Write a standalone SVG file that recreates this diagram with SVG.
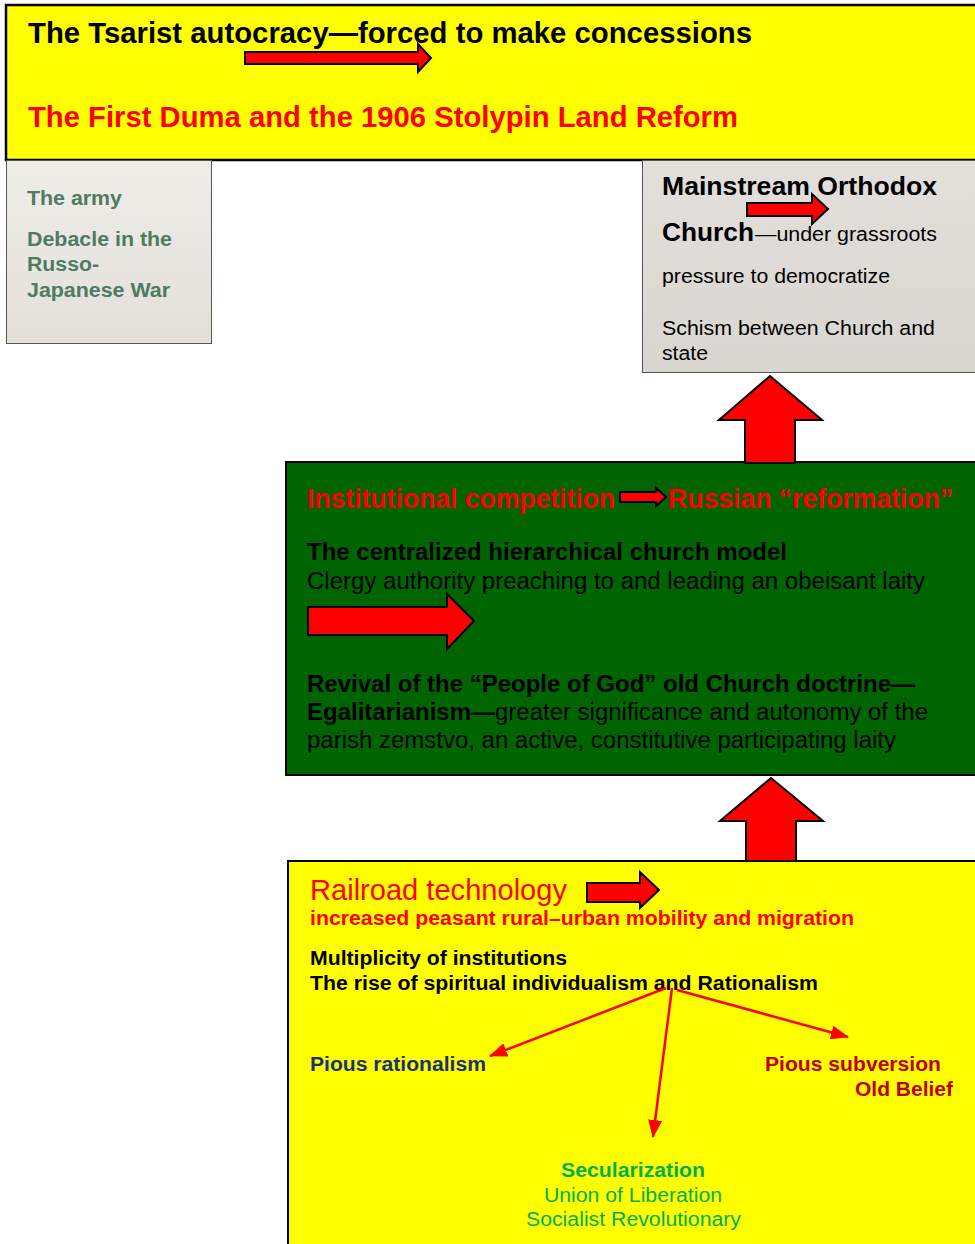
<svg xmlns="http://www.w3.org/2000/svg" width="975" height="1244" viewBox="0 0 975 1244">
  <defs>
    <linearGradient id="greyFill" x1="0" y1="0" x2="0" y2="1">
      <stop offset="0" stop-color="#EFEDE8"/>
      <stop offset="1" stop-color="#E3E0DA"/>
    </linearGradient>
    <linearGradient id="churchFill" x1="0" y1="0" x2="0" y2="1">
      <stop offset="0" stop-color="#E3E0DB"/>
      <stop offset="1" stop-color="#D9D6D1"/>
    </linearGradient>
    <marker id="head" viewBox="0 0 18 14" refX="17" refY="7" markerWidth="18" markerHeight="14" markerUnits="userSpaceOnUse" orient="auto">
      <path d="M0,0 L18,7 L0,14 Z" fill="#FF0000"/>
    </marker>
    <style>
      text { font-family: "Liberation Sans", Arial, sans-serif; }
      .b { font-weight: bold; }
      .block { fill: #FF0000; stroke: #000000; stroke-width: 2; stroke-linejoin: miter; }
      .link { fill: none; stroke: #FF0000; stroke-width: 2.5; }
      .army { fill: #4E7B62; font-weight: bold; font-size: 20px; }
      .blk { fill: #000000; }
      .red { fill: #FF0000; }
    </style>
  </defs>

  <!-- Tsarist autocracy banner -->
  <g id="node-autocracy">
    <rect x="6" y="5" width="972" height="155" fill="#FFFF00" stroke="#000000" stroke-width="2.5"/>
    <text x="28" y="43" class="b blk" font-size="29" textLength="724" lengthAdjust="spacingAndGlyphs">The Tsarist autocracy—forced to make concessions</text>
    <path class="block" d="M245,52 L418,52 L418,44 L431,58 L418,72 L418,64 L245,64 Z"/>
    <text x="28" y="127" class="b red" font-size="30" textLength="710" lengthAdjust="spacingAndGlyphs">The First Duma and the 1906 Stolypin Land Reform</text>
  </g>

  <!-- Army box -->
  <g id="node-army">
    <rect x="6.5" y="160.5" width="205" height="183" fill="url(#greyFill)" stroke="#555555" stroke-width="1"/>
    <text x="27" y="205" class="army" textLength="95" lengthAdjust="spacingAndGlyphs">The army</text>
    <text x="27" y="246" class="army" textLength="145" lengthAdjust="spacingAndGlyphs">Debacle in the</text>
    <text x="27" y="271" class="army" textLength="72" lengthAdjust="spacingAndGlyphs">Russo-</text>
    <text x="27" y="297" class="army" textLength="143" lengthAdjust="spacingAndGlyphs">Japanese War</text>
  </g>

  <!-- Mainstream Orthodox Church box -->
  <g id="node-church">
    <rect x="642.5" y="160.5" width="335" height="212" fill="url(#churchFill)" stroke="#555555" stroke-width="1"/>
    <text x="662" y="195" class="b blk" font-size="26" textLength="275" lengthAdjust="spacingAndGlyphs">Mainstream Orthodox</text>
    <path class="block" d="M747,203 L812,203 L812,194 L828,209 L812,224 L812,216 L747,216 Z"/>
    <text x="662" y="241" class="b blk" font-size="26" textLength="92" lengthAdjust="spacingAndGlyphs">Church</text>
    <text x="755" y="241" class="blk" font-size="20" textLength="182" lengthAdjust="spacingAndGlyphs">—under grassroots</text>
    <text x="662" y="283" class="blk" font-size="20" textLength="228" lengthAdjust="spacingAndGlyphs">pressure to democratize</text>
    <text x="662" y="335" class="blk" font-size="20" textLength="273" lengthAdjust="spacingAndGlyphs">Schism between Church and</text>
    <text x="662" y="360" class="blk" font-size="20" textLength="46" lengthAdjust="spacingAndGlyphs">state</text>
  </g>

  <!-- Institutional competition box -->
  <g id="node-competition">
    <rect x="286" y="462" width="692" height="313" fill="#006400" stroke="#000000" stroke-width="2"/>
    <text x="307" y="508" class="b red" font-size="28" textLength="308" lengthAdjust="spacingAndGlyphs">Institutional competition</text>
    <path class="block" d="M620,492 L656,492 L656,488 L666,497 L656,506 L656,502 L620,502 Z"/>
    <text x="668" y="508" class="b red" font-size="28" textLength="285" lengthAdjust="spacingAndGlyphs">Russian “reformation”</text>
    <text x="307" y="560" class="b blk" font-size="23" textLength="480" lengthAdjust="spacingAndGlyphs">The centralized hierarchical church model</text>
    <text x="307" y="589" class="blk" font-size="23" textLength="618" lengthAdjust="spacingAndGlyphs">Clergy authority preaching to and leading an obeisant laity</text>
    <path class="block" d="M308,607 L447,607 L447,594 L474,621 L447,649 L447,635 L308,635 Z"/>
    <text x="307" y="692" class="b blk" font-size="23" textLength="608" lengthAdjust="spacingAndGlyphs">Revival of the “People of God” old Church doctrine—</text>
    <text x="307" y="720" class="b blk" font-size="23" textLength="188" lengthAdjust="spacingAndGlyphs">Egalitarianism—</text>
    <text x="495" y="720" class="blk" font-size="23" textLength="433" lengthAdjust="spacingAndGlyphs">greater significance and autonomy of the</text>
    <text x="307" y="748" class="blk" font-size="23" textLength="589" lengthAdjust="spacingAndGlyphs">parish zemstvo, an active, constitutive participating laity</text>
  </g>

  <!-- Railroad technology box -->
  <g id="node-railroad">
    <rect x="288" y="861" width="690" height="390" fill="#FFFF00" stroke="#000000" stroke-width="2"/>
    <text x="310" y="900" class="red" font-size="30" textLength="257" lengthAdjust="spacingAndGlyphs">Railroad technology</text>
    <path class="block" d="M587,883 L640,883 L640,872 L659,890 L640,908 L640,902 L587,902 Z"/>
    <text x="310" y="925" class="b red" font-size="20" textLength="544" lengthAdjust="spacingAndGlyphs">increased peasant rural–urban mobility and migration</text>
    <text x="310" y="965" class="b blk" font-size="20" textLength="257" lengthAdjust="spacingAndGlyphs">Multiplicity of institutions</text>
    <text x="310" y="990" class="b blk" font-size="20" textLength="508" lengthAdjust="spacingAndGlyphs">The rise of spiritual individualism and Rationalism</text>
  </g>

  <g id="node-pious-rationalism">
    <text x="310" y="1071" class="b" fill="#1A3275" font-size="20" textLength="176" lengthAdjust="spacingAndGlyphs">Pious rationalism</text>
  </g>

  <g id="node-pious-subversion">
    <text x="765" y="1071" class="b" fill="#C00000" font-size="20" textLength="176" lengthAdjust="spacingAndGlyphs">Pious subversion</text>
    <text x="855" y="1096" class="b" fill="#C00000" font-size="20" textLength="98" lengthAdjust="spacingAndGlyphs">Old Belief</text>
  </g>

  <g id="node-secularization">
    <text x="561" y="1177" class="b" fill="#00B050" font-size="20" textLength="144" lengthAdjust="spacingAndGlyphs">Secularization</text>
    <text x="544" y="1202" fill="#00B050" font-size="20" textLength="178" lengthAdjust="spacingAndGlyphs">Union of Liberation</text>
    <text x="526" y="1226" fill="#00B050" font-size="20" textLength="215" lengthAdjust="spacingAndGlyphs">Socialist Revolutionary</text>
  </g>

  <!-- Connectors -->
  <g id="connectors">
    <path class="block" d="M745,463 L745,420 L719,420 L770,376 L822,420 L795,420 L795,463 Z"/>
    <path class="block" d="M746,861 L746,821 L720,821 L771,778 L823,821 L796,821 L796,861 Z"/>
    <line class="link" x1="666" y1="988" x2="490" y2="1056" marker-end="url(#head)"/>
    <line class="link" x1="672" y1="988" x2="653" y2="1137" marker-end="url(#head)"/>
    <line class="link" x1="677" y1="990" x2="848" y2="1037" marker-end="url(#head)"/>
  </g>
</svg>
